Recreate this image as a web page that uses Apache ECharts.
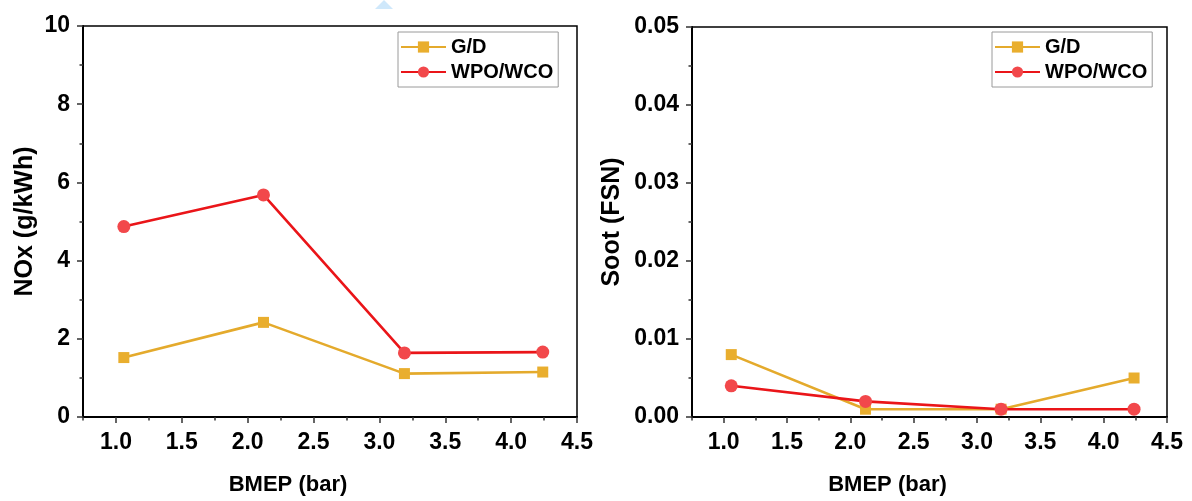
<!DOCTYPE html>
<html>
<head>
<meta charset="utf-8">
<title>NOx and Soot vs BMEP</title>
<script src="https://cdn.jsdelivr.net/npm/echarts@6/dist/echarts.min.js"></script>
<style>
  html, body { margin: 0; padding: 0; background: #fff; }
  #chart { width: 1192px; height: 501px; }
</style>
</head>
<body>
<div id="chart"></div>
<script>
// Engine-out emissions against brake mean effective pressure
const bmep = [1.06, 2.12, 3.19, 4.24];
const noxGD = [1.52, 2.42, 1.11, 1.15];
const noxWPO = [4.87, 5.68, 1.64, 1.66];
const sootGD = [0.008, 0.001, 0.001, 0.005];
const sootWPO = [0.004, 0.002, 0.001, 0.001];

const seriesNames = ['G/D', 'WPO/WCO'];
const xTicks = [1.0, 1.5, 2.0, 2.5, 3.0, 3.5, 4.0, 4.5];
const noxTicks = [0, 2, 4, 6, 8, 10];
const sootTicks = [0, 0.01, 0.02, 0.03, 0.04, 0.05];

const FONT = '"Liberation Sans", Arial, sans-serif';
const GD_LINE = '#e4aa2c';
const GD_MARK = '#e9ae2e';
const WPO_LINE = '#ea1519';
const WPO_MARK = '#f2484b';

const pairs = (xs, ys) => xs.map((x, i) => [x, ys[i]]);

const textBold = (size) => ({ fontFamily: FONT, fontWeight: 'bold', fontSize: size, color: '#000' });

function mainX(gridIndex) {
  return {
    gridIndex, type: 'value', position: 'bottom',
    min: 0.75, max: 4.5,
    axisLine: { show: true, onZero: false, lineStyle: { color: '#000', width: 2 } },
    axisTick: { show: true, customValues: xTicks, length: 6, lineStyle: { color: '#333', width: 1.5 } },
    axisLabel: Object.assign({ customValues: xTicks, formatter: v => v.toFixed(1), margin: 14 }, textBold(23)),
    splitLine: { show: false },
    name: 'BMEP (bar)', nameLocation: 'middle', nameGap: 57,
    // title sits a little left of the plot centre
    nameTextStyle: Object.assign({ padding: [0, 84, 0, 0] }, textBold(22))
  };
}

function minorX(gridIndex) {
  return {
    gridIndex, type: 'value', position: 'bottom',
    min: 0.75, max: 4.5, interval: 0.25,
    axisLine: { show: false },
    axisTick: { show: true, length: 3.5, lineStyle: { color: '#333', width: 1.5 } },
    axisLabel: { show: false },
    splitLine: { show: false }
  };
}

function yAxis(gridIndex, ticks, name, gap, digits) {
  return {
    gridIndex, type: 'value',
    min: ticks[0], max: ticks[ticks.length - 1], interval: ticks[1] - ticks[0],
    axisLine: { show: true, onZero: false, lineStyle: { color: '#000', width: 2 } },
    axisTick: { show: true, length: 6, lineStyle: { color: '#333', width: 1.5 } },
    minorTick: { show: true, splitNumber: 2, length: 3.5, lineStyle: { color: '#333', width: 1.5 } },
    axisLabel: Object.assign({ margin: 13, formatter: v => v.toFixed(digits) }, textBold(23)),
    splitLine: { show: false },
    minorSplitLine: { show: false },
    name, nameLocation: 'middle', nameGap: gap, nameRotate: 90,
    nameTextStyle: textBold(25)
  };
}

function lineSeries(name, xIdx, yIdx, data, isGD) {
  return {
    name, type: 'line', xAxisIndex: xIdx, yAxisIndex: yIdx,
    data,
    symbol: isGD ? 'rect' : 'circle',
    symbolSize: isGD ? 11 : 13,
    lineStyle: { color: isGD ? GD_LINE : WPO_LINE, width: 2.6 },
    itemStyle: { color: isGD ? GD_MARK : WPO_MARK },
    z: isGD ? 2 : 3
  };
}

function legendAt(left) {
  return {
    data: seriesNames, orient: 'vertical', left, top: 32,
    itemWidth: 45, itemHeight: 14, itemGap: 5,
    padding: [5, 5, 5, 2],
    borderColor: '#9a9a9a', borderWidth: 1,
    backgroundColor: '#fff',
    textStyle: textBold(20)
  };
}

const chart = echarts.init(document.getElementById('chart'), null, { renderer: 'canvas' });

chart.setOption({
  animation: false,
  backgroundColor: '#fff',
  grid: [
    { left: 83, top: 26, width: 494, height: 392, show: true, borderColor: '#000', borderWidth: 1.5, backgroundColor: 'transparent' },
    { left: 692, top: 27, width: 475, height: 392, show: true, borderColor: '#000', borderWidth: 1.5, backgroundColor: 'transparent' }
  ],
  xAxis: [mainX(0), minorX(0), mainX(1), minorX(1)],
  yAxis: [
    yAxis(0, noxTicks, 'NOx (g/kWh)', 45, 0),
    yAxis(1, sootTicks, 'Soot (FSN)', 67, 2)
  ],
  legend: [legendAt(398), legendAt(992)],
  graphic: [{
    type: 'polygon', silent: true,
    shape: { points: [[375, 9], [393, 9], [384, 0]] },
    style: { fill: '#cfe8fb' }
  }],
  series: [
    lineSeries(seriesNames[0], 0, 0, pairs(bmep, noxGD), true),
    lineSeries(seriesNames[1], 0, 0, pairs(bmep, noxWPO), false),
    lineSeries(seriesNames[0], 2, 1, pairs(bmep, sootGD), true),
    lineSeries(seriesNames[1], 2, 1, pairs(bmep, sootWPO), false)
  ]
});
</script>
</body>
</html>
